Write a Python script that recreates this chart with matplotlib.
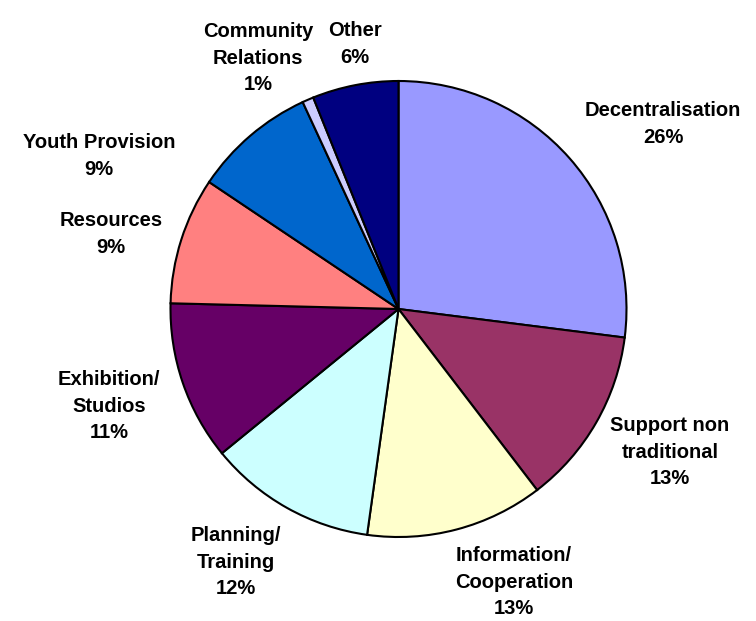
import matplotlib
matplotlib.use("Agg")
import matplotlib.pyplot as plt

categories = ["Decentralisation", "Support non traditional", "Information/Cooperation",
              "Planning/Training", "Exhibition/Studios", "Resources", "Youth Provision",
              "Community Relations", "Other"]
values = [27.0, 12.6, 12.6, 11.9, 11.3, 9.0, 8.7, 0.8, 6.1]
pct_labels = ["26%", "13%", "13%", "12%", "11%", "9%", "9%", "1%", "6%"]
label_text = ["Decentralisation", "Support non\ntraditional", "Information/\nCooperation",
              "Planning/\nTraining", "Exhibition/\nStudios", "Resources", "Youth Provision",
              "Community\nRelations", "Other"]
colors = ["#9999FF", "#993366", "#FFFFCC", "#CCFFFF", "#660066", "#FF8080",
          "#0066CC", "#CCCCFF", "#000080"]

W, H = 756, 621
fig = plt.figure(figsize=(W / 100, H / 100), dpi=100)
cx, cy, r = 398.5, 309, 228
ax = fig.add_axes([(cx - r) / W, (H - cy - r) / H, 2 * r / W, 2 * r / H])
ax.pie(values, colors=colors, startangle=90, counterclock=False,
       wedgeprops=dict(edgecolor="black", linewidth=1.5), radius=1.0)
ax.set_xlim(-1, 1)
ax.set_ylim(-1, 1)
ax.set_aspect("equal")
ax.axis("off")

# label centre positions in pixels
label_pos = [(663, 124), (670, 452), (514, 582), (236, 562), (109, 406),
             (111, 234), (99, 156), (258, 58), (355, 44)]
for txt, pct, (px, py) in zip(label_text, pct_labels, label_pos):
    fig.text(px / W, 1 - py / H, txt + "\n" + pct, ha="center", va="center",
             fontsize=14.5, fontweight="bold", family="Liberation Sans",
             linespacing=1.5)

fig.savefig("out.png", dpi=100)
